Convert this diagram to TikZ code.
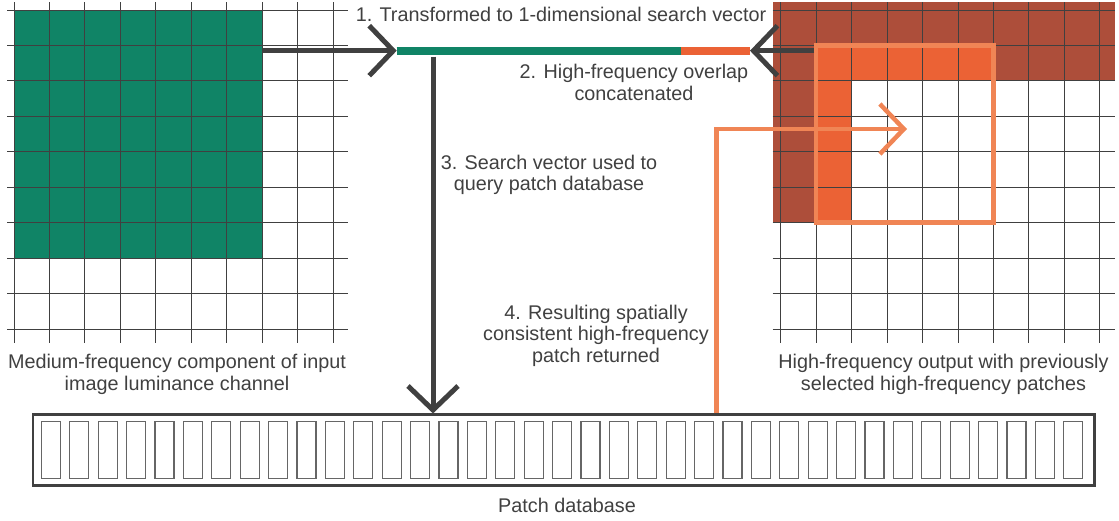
\documentclass[tikz,border=0pt]{standalone}
\usepackage{fontspec}
\setmainfont{Liberation Sans}
\usetikzlibrary{arrows.meta}

\definecolor{medgreen}{HTML}{108466}
\definecolor{hfdark}{HTML}{AD4E3A}
\definecolor{hforange}{HTML}{EB6235}
\definecolor{hflight}{HTML}{F08555}
\definecolor{ink}{HTML}{404040}

\tikzset{
  gridline/.style={draw=ink, line width=0.9pt},
  bigarrow/.style={draw=ink, line width=5pt, -{Straight Barb[length=24pt,width=50pt]}},
  lbl/.style={font=\fontsize{19.8}{21.5}\selectfont, text=ink, align=center, inner sep=0pt},
  patchcell/.style={draw=ink!80, line width=1.2pt},
}

\begin{document}
\begin{tikzpicture}[x=1pt,y=-1pt]
  \useasboundingbox (0,0) rectangle (1119,520);

  % medium-frequency input
  \fill[medgreen] (14,10) rectangle ++(248.2,248.2);
  \foreach \i in {0,...,9} {
    \draw[gridline] (14+35.45*\i,2) -- ++(0,341);
    \draw[gridline] (7,10+35.45*\i) -- ++(341,0);
  }

  % high-frequency output
  \fill[hfdark] (772.7,1.7) rectangle (1115,80.9);
  \fill[hfdark] (772.7,80.9) rectangle (816.2,222.7);
  \fill[hforange] (816.2,45.45) rectangle (993.4,80.9);
  \fill[hforange] (816.2,80.9) rectangle (851.6,222.7);
  \foreach \i in {0,...,9} {
    \draw[gridline] (780.7+35.45*\i,2) -- ++(0,341);
    \draw[gridline] (772.7,10+35.45*\i) -- ++(342.3,0);
  }
  \draw[hflight, line width=4.5pt] (816.2,45.45) rectangle (993.4,222.7);

  % search vector
  \coordinate (vecL) at (396.7,50.7);
  \coordinate (vecM) at (681,50.7);
  \coordinate (vecR) at (750,50.7);
  \draw[medgreen, line width=8pt] (vecL) -- (vecM);
  \draw[hforange, line width=8pt] (vecM) -- (vecR);

  \coordinate (inEdge) at (262.2,50.7);
  \coordinate (outEdge) at (814,50.7);
  \draw[bigarrow] (inEdge) -- (vecL);
  \draw[bigarrow] (outEdge) -- (vecR);

  % patch database
  \node[draw=ink, line width=2.5pt, minimum width=1061.7pt, minimum height=70.6pt, inner sep=0pt] (db) at (563.85,450) {};
  \foreach \i in {0,...,36}
    \draw[patchcell] (41.3+28.4*\i,421.7) rectangle ++(19,56.6);

  \coordinate (drop) at (433,56.7);
  \draw[bigarrow] (drop) -- (drop |- db.north);

  \coordinate (ret) at (716.7,129);
  \coordinate (retTip) at (907,129);
  \draw[hflight, line width=4.5pt, -{Straight Barb[length=24pt,width=50pt]}]
    (ret |- db.north) -- (ret) -- (retTip);

  % labels
  \node[lbl, anchor=base] (step1) at (561,21) {1. Transformed to 1-dimensional search vector};
  \node[lbl] (step2) at (634,82.4) {2. High-frequency overlap\\concatenated};
  \node[lbl] (step3) at (549,175) {3. Search vector used to\\query patch database};
  \node[lbl] (step4) at (596,335.8) {4. Resulting spatially\\consistent high-frequency\\patch returned};
  \node[lbl] (inCap) at (177,374.4) {Medium-frequency component of input\\image luminance channel};
  \node[lbl] (outCap) at (943.5,374.4) {High-frequency output with previously\\selected high-frequency patches};
  \node[lbl, anchor=base] (dbCap) at (567,512) {Patch database};
\end{tikzpicture}
\end{document}
